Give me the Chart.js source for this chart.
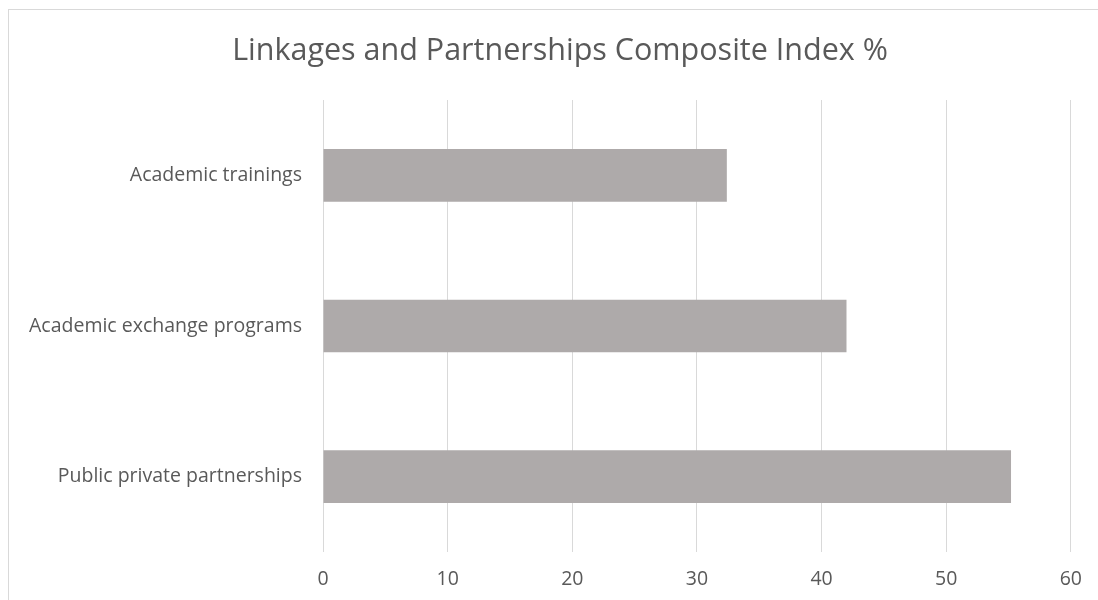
<!DOCTYPE html>
<html>
<head>
<meta charset="utf-8">
<script src="https://cdn.jsdelivr.net/npm/chart.js@4/dist/chart.umd.min.js"></script>
<style>
  html, body { margin: 0; padding: 0; background: #ffffff; overflow: hidden; }
  #wrap { position: relative; width: 1098px; height: 600px; overflow: hidden; }
  #frame { position: absolute; left: 8px; top: 9px; width: 1200px; height: 700px;
           border: 1px solid #d9d9d9; box-sizing: border-box; }
  canvas { position: absolute; left: 0; top: 0; }
</style>
</head>
<body>
<div id="wrap">
  <div id="frame"></div>
  <canvas id="chart" width="1098" height="600"></canvas>
</div>
<script>
// Categories, listed top to bottom
const categories = ["Academic trainings", "Academic exchange programs", "Public private partnerships"];
// Composite index values (%)
const indexValues = [32.4, 42.0, 55.2];
// Value axis ticks
const xTicks = [0, 10, 20, 30, 40, 50, 60];

const TITLE = "Linkages and Partnerships Composite Index %";
const FONT = "'Open Sans', sans-serif";
const TEXT = "#595959";

// Title centred over the whole chart frame rather than the padded layout box
const frameTitle = {
  id: "frameTitle",
  afterDraw(chart) {
    const ctx = chart.ctx;
    ctx.save();
    ctx.font = "30.5px " + FONT;
    ctx.fillStyle = TEXT;
    ctx.textAlign = "center";
    ctx.textBaseline = "middle";
    ctx.fillText(TITLE, 560, 51);
    ctx.restore();
  }
};

new Chart(document.getElementById("chart"), {
  type: "bar",
  data: {
    labels: categories,
    datasets: [{
      label: TITLE,
      data: indexValues,
      backgroundColor: "#aeaaaa",
      borderWidth: 0,
      barPercentage: 0.35,
      categoryPercentage: 1.0
    }]
  },
  options: {
    indexAxis: "y",
    responsive: false,
    animation: false,
    layout: { padding: { left: 0, right: 26, top: 100, bottom: 0 } },
    plugins: {
      legend: { display: false },
      tooltip: { enabled: false },
      title: { display: false }
    },
    scales: {
      x: {
        type: "linear",
        min: xTicks[0],
        max: xTicks[xTicks.length - 1],
        afterBuildTicks: (axis) => { axis.ticks = xTicks.map(v => ({ value: v })); },
        afterFit: (axis) => { axis.height = 48; },
        grid: { color: "#d9d9d9", lineWidth: 1, drawTicks: false },
        border: { display: false },
        ticks: { color: TEXT, padding: 16, font: { family: FONT, size: 19.5 } }
      },
      y: {
        afterFit: (axis) => { axis.width = 323; },
        grid: { display: false, drawTicks: false },
        border: { display: false },
        ticks: { color: TEXT, padding: 21, font: { family: FONT, size: 19.5 } }
      }
    }
  },
  plugins: [frameTitle]
});
</script>
</body>
</html>
